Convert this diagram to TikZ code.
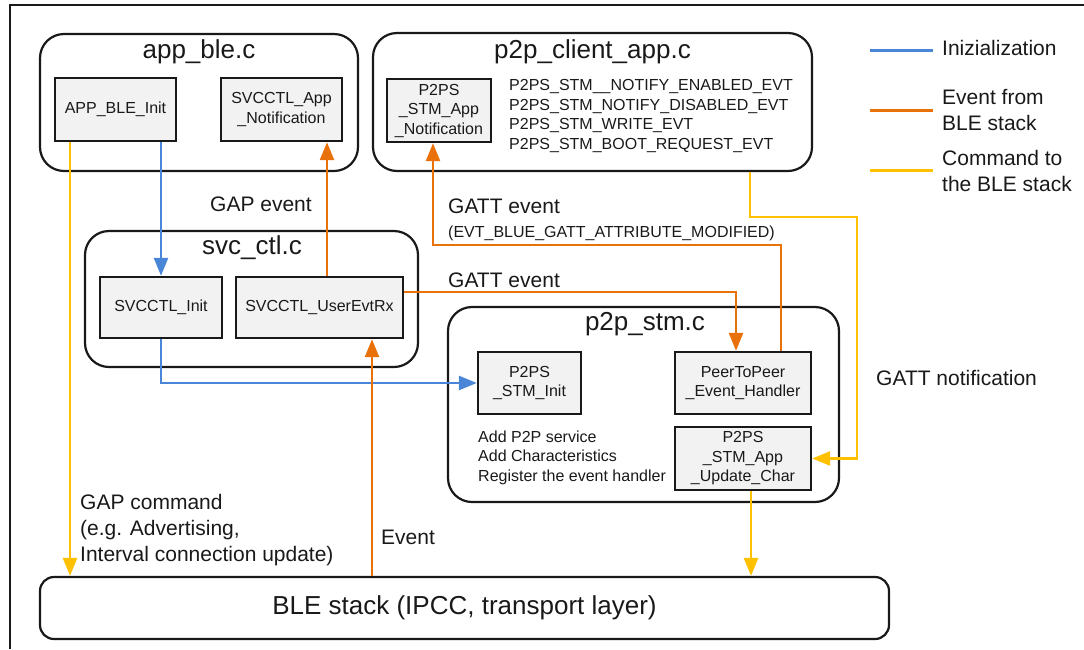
\documentclass[tikz,border=0pt]{standalone}
\usepackage{fontspec}
\setmainfont{Liberation Sans}
\usetikzlibrary{arrows.meta,calc}
\definecolor{cblue}{RGB}{74,134,216}
\definecolor{corange}{RGB}{232,113,10}
\definecolor{cyellow}{RGB}{255,192,0}
\definecolor{boxgray}{RGB}{242,242,242}
\definecolor{ink}{RGB}{25,25,25}
\begin{document}
\begin{tikzpicture}[x=1pt,y=-1pt,
  container/.style={draw=ink,line width=2.2pt,rounded corners=24pt,inner sep=0pt},
  func/.style={draw=ink,line width=2.4pt,fill=boxgray,align=center,inner sep=0pt,text=ink,font=\fontsize{16}{19.5}\selectfont},
  ttl/.style={font=\fontsize{26}{30}\selectfont,inner sep=0pt,text=ink},
  lbl/.style={font=\fontsize{21}{26}\selectfont,inner sep=0pt,anchor=west,align=left,text=ink},
  small/.style={font=\fontsize{16}{19.5}\selectfont,inner sep=0pt,anchor=west,align=left,text=ink},
  flow/.style={line width=2.6pt,-{Triangle[length=18pt,width=14pt]}},
  ini/.style={flow,draw=cblue,color=cblue},
  evt/.style={flow,draw=corange,color=corange},
  cmd/.style={flow,draw=cyellow,color=cyellow},
  legline/.style={line width=3pt}
]
\useasboundingbox (0,0) rectangle (1084,649);
% frame
\draw[line width=2.2pt,ink] (10,649) -- (10,5) -- (1084,5);

% containers
\node[container,minimum width=318,minimum height=137] (appble) at (199,102.5) {};
\node[ttl] (appblet) at (199,52) {app\_ble.c};
\node[container,minimum width=439,minimum height=138] (client) at (592.5,102) {};
\node[ttl] (clientt) at (592.5,52) {p2p\_client\_app.c};
\node[container,minimum width=333,minimum height=136] (svc) at (251.5,299) {};
\node[ttl] (svct) at (252,248) {svc\_ctl.c};
\node[container,minimum width=391,minimum height=195] (stm) at (643.5,404.5) {};
\node[ttl] (stmt) at (645,324) {p2p\_stm.c};
\node[draw=ink,line width=2.2pt,rounded corners=14pt,minimum width=849,minimum height=62,
      font=\fontsize{26}{30}\selectfont,text=ink] (ble) at (464.5,608) {BLE stack (IPCC, transport layer)};

% function boxes
\node[func,minimum width=121,minimum height=63] (appinit) at (115.5,109.5) {APP\_BLE\_Init};
\node[func,minimum width=121,minimum height=63] (svcnotif) at (281.5,109.5) {SVCCTL\_App\\\_Notification};
\node[func,minimum width=104,minimum height=63] (p2pnotif) at (439,110.5) {P2PS\\\_STM\_App\\\_Notification};
\node[func,minimum width=122,minimum height=61] (svcinit) at (161,307.5) {SVCCTL\_Init};
\node[func,minimum width=167,minimum height=61] (userevt) at (319.5,307.5) {SVCCTL\_UserEvtRx};
\node[func,minimum width=103,minimum height=62] (stminit) at (529.5,383) {P2PS\\\_STM\_Init};
\node[func,minimum width=136,minimum height=62] (handler) at (743,383) {PeerToPeer\\\_Event\_Handler};
\node[func,minimum width=136,minimum height=63] (updchar) at (743,458.5) {P2PS\\\_STM\_App\\\_Update\_Char};

% texts
\node[small,text depth=0pt] (evlist) at (509,114.5) {P2PS\_STM\_\_NOTIFY\_ENABLED\_EVT\\P2PS\_STM\_NOTIFY\_DISABLED\_EVT\\P2PS\_STM\_WRITE\_EVT\\P2PS\_STM\_BOOT\_REQUEST\_EVT};
\node[small] (stmtext) at (478,457.5) {Add P2P service\\Add Characteristics\\Register the event handler};
\node[lbl] (gapevt) at (210,204) {GAP event};
\node[lbl] (gattevt1) at (448,206) {GATT event};
\node[small] (gattattr) at (448,233) {(EVT\_BLUE\_GATT\_ATTRIBUTE\_MODIFIED)};
\node[lbl] (gattevt2) at (448,280) {GATT event};
\node[lbl] (gattnot) at (876,378) {GATT notification};
\node[lbl] (gapcmd) at (80,530) {GAP command\\(e.g. Advertising,\\Interval connection update)};
\node[lbl] (evtlbl) at (381,537) {Event};

% legend
\node[lbl] (legi) at (942,48) {Inizialization};
\node[lbl] (lege) at (942,110) {Event from\\BLE stack};
\node[lbl] (legc) at (942,170.5) {Command to\\the BLE stack};
\draw[legline,cblue] ([xshift=-72,yshift=-2]legi.west) -- ([xshift=-9,yshift=-2]legi.west);
\draw[legline,corange] ([xshift=-72]lege.west) -- ([xshift=-9]lege.west);
\draw[legline,cyellow] ([xshift=-72]legc.west) -- ([xshift=-9]legc.west);

% initialization (blue)
\draw[ini] (svcinit.north |- appinit.south) -- (svcinit.north);
\draw[ini] (svcinit.south) |- (stminit.west);

% events (orange)
\draw[evt] ([xshift=7.5]userevt.north) -- ([xshift=7.5]userevt.north |- svcnotif.south);
\draw[evt] ([xshift=52.5]userevt.south |- ble.north) -- ([xshift=52.5]userevt.south);
\draw[evt] ([yshift=15.5]userevt.east) -| ([xshift=-7]handler.north);
\draw[evt] ([xshift=38]handler.north) -- ++(0,-106) -| ([xshift=-6]p2pnotif.south);

% commands (yellow)
\draw[cmd] ([xshift=157.5]client.south) -- ++(0,45) -- ++(107,0) |- (updchar.east);
\draw[cmd] ([xshift=8]updchar.south) -- ([xshift=8]updchar.south |- ble.north);
\draw[cmd] ([xshift=-45.5]appinit.south) -- ([xshift=-45.5]appinit.south |- ble.north);
\end{tikzpicture}
\end{document}
